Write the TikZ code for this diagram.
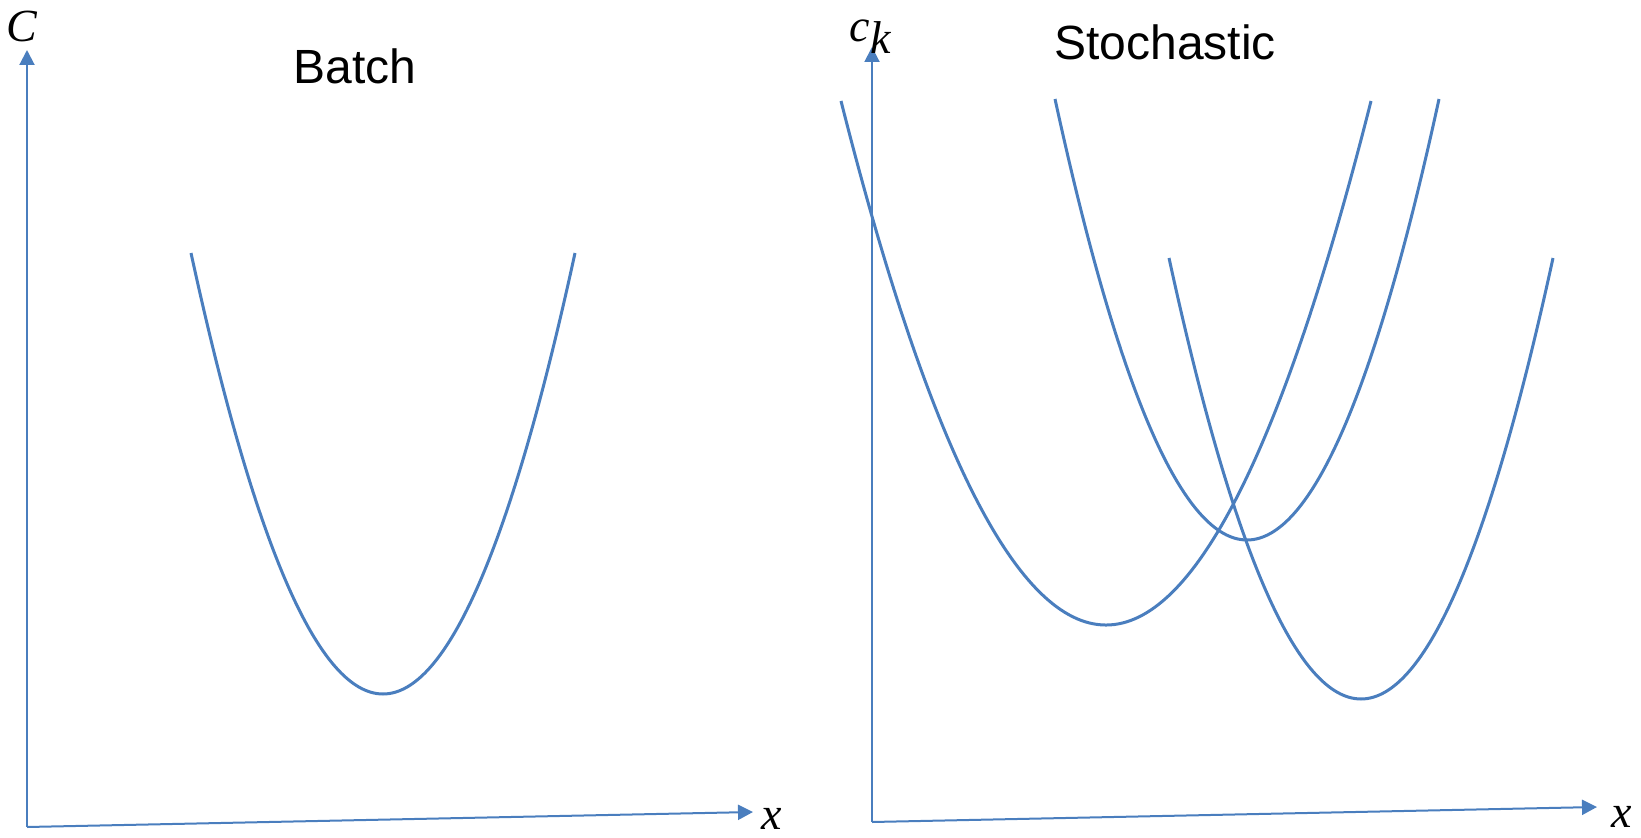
\documentclass[tikz,border=0pt]{standalone}
\usepackage{fontspec}
\setmainfont{Liberation Sans}
\newfontfamily\labelfont{Liberation Serif}
\usetikzlibrary{arrows.meta}
\definecolor{lineblue}{RGB}{74,126,190}
\tikzset{
  axis/.style={draw=lineblue, line width=1pt, -{Triangle[width=7.5pt,length=7.5pt]}},
  curve/.style={draw=lineblue, line width=1.5pt},
  title/.style={font=\fontsize{24}{28}\selectfont, anchor=base, inner sep=0pt},
  mlabel/.style={font=\labelfont\itshape\fontsize{23}{27}\selectfont, anchor=base, inner sep=0pt}
}
\begin{document}
\begin{tikzpicture}[x=0.5pt,y=-0.5pt]
\useasboundingbox (0,0) rectangle (1641,838);
% left axes
\coordinate (o1) at (27,827);
\coordinate (y1) at (27,50);
\coordinate (x1) at (753,812);
\draw[axis] (o1) -- (y1);
\draw[axis] (o1) -- (x1);
\node[mlabel] (lc) at (22,42) {C};
\node[mlabel] (lx1) at (772,829) {x};
\node[title] (batch) at (355,84) {Batch};
% right axes
\coordinate (o2) at (872,822);
\coordinate (y2) at (872,47);
\coordinate (x2) at (1597,807);
\draw[axis] (o2) -- (y2);
\draw[axis] (o2) -- (x2);
\node[mlabel] (lck) at (870,42) {c\raisebox{-0.25em}{k}};
\node[mlabel] (lx2) at (1622,827) {x};
\node[title] (stoch) at (1165,60) {Stochastic};
% parabolas: left top (c-h,t), vertex (c,t+d)
% batch: c=383, h=192, t=253, d=441
\draw[curve] (191,253) .. controls (319,841) and (447,841) .. (575,253);
% stochastic 1: c=1106, h=265, t=101, d=524
\draw[curve] (841,101) .. controls (1017.7,799.7) and (1194.3,799.7) .. (1371,101);
% stochastic 2: c=1247, h=192, t=99, d=441
\draw[curve] (1055,99) .. controls (1183,687) and (1311,687) .. (1439,99);
% stochastic 3: c=1361, h=192, t=258, d=441
\draw[curve] (1169,258) .. controls (1297,846) and (1425,846) .. (1553,258);
\end{tikzpicture}
\end{document}
